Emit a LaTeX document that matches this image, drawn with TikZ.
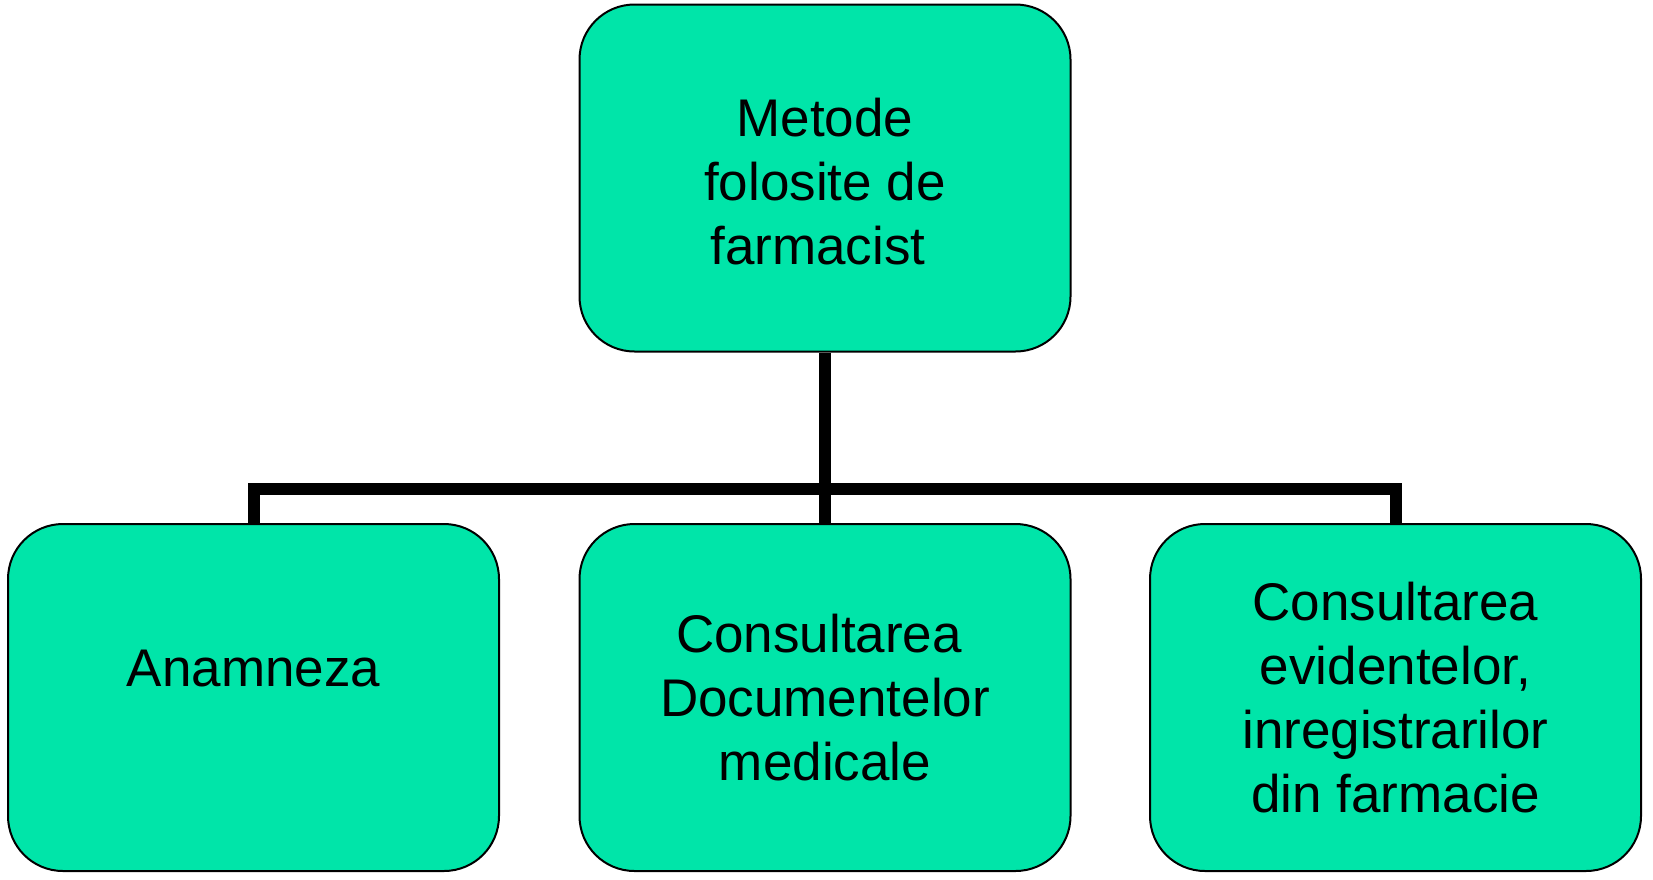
\documentclass[tikz,border=0pt]{standalone}
\usepackage{fontspec}
\setmainfont{Liberation Sans}
\definecolor{boxgreen}{RGB}{0,229,169}
\begin{document}
\begin{tikzpicture}[x=1pt,y=1pt,
  boxbase/.style={draw=black, line width=2pt, fill=boxgreen, rounded corners=55pt,
    minimum width=491pt, minimum height=347pt, inner sep=0pt,
    font=\fontsize{53pt}{64pt}\selectfont},
  box/.style={boxbase, align=center},
  conn/.style={line width=12pt, draw=black, line join=miter, line cap=butt}]
\useasboundingbox (0,0) rectangle (1653,-879);
\fill[white] (0,0) rectangle (1653,-879);
\node[box] (top) at (825,-178) {\raisebox{-4pt}[\height][\depth]{\parbox{400pt}{\centering Metode\\folosite de\hspace*{16pt}\\farmacist\hspace*{14pt}}}};
\node[boxbase, text height=0pt, text depth=23pt] (left) at (253.5,-697.5) {Anamneza};
\node[box] (mid) at (825,-697.5) {Consultarea\hspace*{12pt}\\Documentelor\\medicale};
\node[box] (right) at (1395.5,-697.5) {Consultarea\\evidentelor,\\inregistrarilor\hspace*{12pt}\\din farmacie};
\coordinate (bar) at (825,-489);
\draw[conn] (top.south) -- (mid.north);
\draw[conn] (left.north) |- (bar) -| (right.north);
\end{tikzpicture}
\end{document}
